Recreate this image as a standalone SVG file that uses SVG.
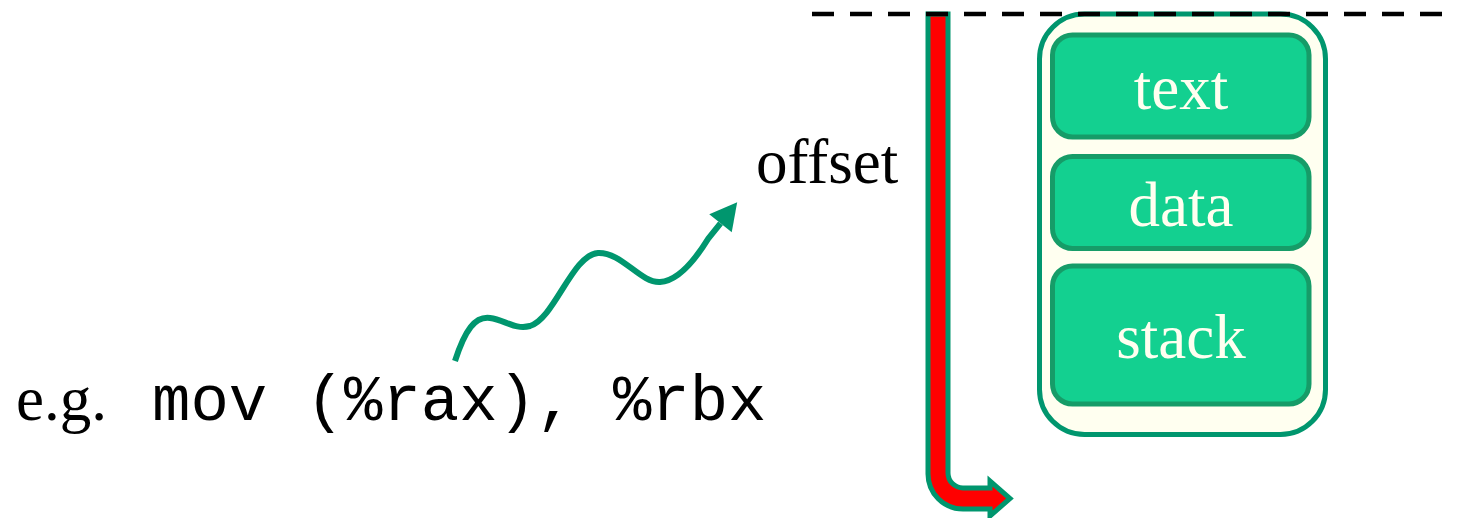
<svg xmlns="http://www.w3.org/2000/svg" width="1458" height="518" viewBox="0 0 1458 518">
<style>
.serif{font-family:"Liberation Serif","Times New Roman",serif;font-size:63px}
.mono{font-family:"Liberation Mono","Courier New",monospace;font-size:64px}
.seg{fill:#13d090;stroke:#169c68;stroke-width:5}
.segtxt{fill:#fffff0;text-anchor:middle}
</style>
<defs>
<marker id="ah" markerUnits="userSpaceOnUse" markerWidth="30" markerHeight="30" viewBox="0 -14 26 28" refX="0" refY="0" orient="auto">
<path d="M0,-13.4 L25,0 L0,13.4 Z" fill="#00966e"/>
</marker>
</defs>
<rect width="1458" height="518" fill="#ffffff"/>
<g id="memory">
<rect x="1039.5" y="14" width="286" height="420.5" rx="45" fill="#fffff0" stroke="#00966e" stroke-width="5"/>
</g>
<g id="text-seg">
<rect class="seg" x="1052.5" y="35" width="256.5" height="102" rx="20"/>
<text class="serif segtxt" x="1181" y="109">text</text>
</g>
<g id="data-seg">
<rect class="seg" x="1052.5" y="156.5" width="256.5" height="92" rx="20"/>
<text class="serif segtxt" x="1181" y="226">data</text>
</g>
<g id="stack-seg">
<rect class="seg" x="1052.5" y="266" width="256.5" height="138" rx="20"/>
<text class="serif segtxt" x="1181" y="358">stack</text>
</g>
<g id="offset-label">
<text class="serif" x="756" y="183" fill="#000">offset</text>
</g>
<g id="example">
<text class="serif" x="16" y="420" fill="#000">e.g.</text>
<text class="mono" x="152" y="420" fill="#000" xml:space="preserve">mov (%rax), %rbx</text>
</g>
<g id="connectors">
<path d="M928,14 L948,14 L948,473 A15,15 0 0 0 963,488 L990,488 L990,481 L1010,498.5 L990,516 L990,509 L963,509 A35,35 0 0 1 928,474 Z" fill="#ff0000" stroke="#00966e" stroke-width="5" stroke-linejoin="miter"/>
<path d="M455,361 C465,330 475,316 490,318 C505,320 515,330 530,326 C555,318 572,255 598,253 C622,252 640,283 660,282 C678,281 695,260 708,239 L720.5,223.3" fill="none" stroke="#00966e" stroke-width="6" marker-end="url(#ah)"/>
<line x1="812" y1="14" x2="1443" y2="14" stroke="#000" stroke-width="4.5" stroke-dasharray="22 16"/>
</g>
</svg>
